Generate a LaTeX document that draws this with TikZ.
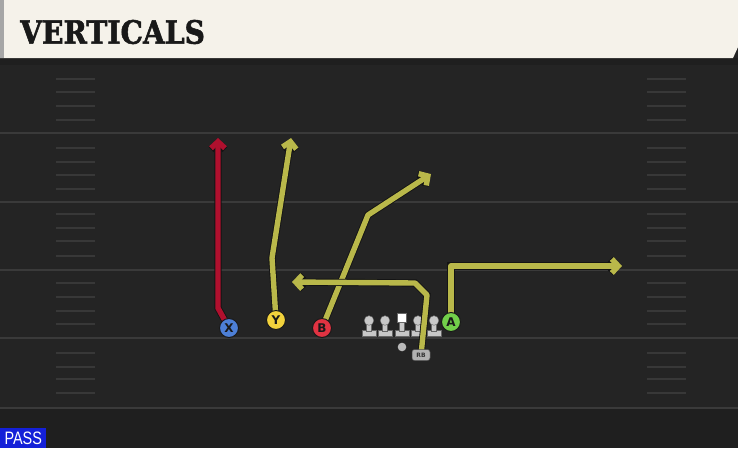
\documentclass[tikz,border=0pt]{standalone}
\usepackage{fontspec}
\setmainfont{DejaVu Sans}
\newfontfamily\titlefont[BoldFeatures={FakeBold=1.8}]{DejaVu Serif}
\newfontfamily\passfont{Liberation Sans}
\usetikzlibrary{arrows.meta}
\definecolor{fieldbg}{HTML}{242424}
\definecolor{fieldlow}{HTML}{1F1F1F}
\definecolor{yardc}{HTML}{3A3A3A}
\definecolor{hashc}{HTML}{383838}
\definecolor{cream}{HTML}{F5F2EA}
\definecolor{routeY}{HTML}{B9B84A}
\definecolor{routeX}{HTML}{B0102E}
\definecolor{pblue}{HTML}{4D7FD6}
\definecolor{pyellow}{HTML}{F2D23C}
\definecolor{pred}{HTML}{E03342}
\definecolor{pgreen}{HTML}{72D04A}
\definecolor{linec}{HTML}{C8C8C8}
\definecolor{passblue}{HTML}{1420D8}
\pgfdeclarelayer{field}
\pgfdeclarelayer{routes}
\pgfsetlayers{field,routes,main}
\tikzset{
  yard/.style={draw=yardc, line width=2pt},
  hashm/.style={draw=hashc, line width=1.4pt},
  route/.style={line width=5.4pt, line join=round, line cap=butt,
    -{Straight Barb[length=6.5pt,width=14pt,line join=miter]},
    preaction={draw=black!92, line width=7.2pt}},
  player/.style={circle, draw=black!90, line width=1pt, minimum size=19pt, inner sep=0pt,
    font=\bfseries\fontsize{12}{12}\selectfont, text=black!90},
  lineman/.style={fill=linec, draw=black!60, line width=0.4pt}
}
\begin{document}
\begin{tikzpicture}[x=1pt,y=-1pt]
\useasboundingbox (0,0) rectangle (738,448);
\begin{pgfonlayer}{field}
\fill[fieldbg] (0,0) rectangle (738,448);
\fill[fieldlow] (0,408) rectangle (738,448);
\foreach \yy in {133,202,270,338,408} \draw[yard] (0,\yy) -- (738,\yy);
\foreach \yy in {79,92,106,120,148,162,175,189,214,228,241,256,283,297,311,324,353,367,379,393}{
  \draw[hashm] (56,\yy) -- (95,\yy);
  \draw[hashm] (647,\yy) -- (686,\yy);
}
% header
\fill[black!88] (0,58) rectangle (738,65);
\fill[cream] (0,0) -- (738,0) -- (738,47) -- (733,58) -- (0,58) -- cycle;
\fill[gray!70] (0,0) rectangle (4,58);
\node[anchor=west, inner sep=0pt, text=black!90,
  font=\titlefont\bfseries\fontsize{32}{32}\selectfont] (title) at (20,32)
  {\scalebox{0.88}[1]{VERTICALS}};
% linemen
\foreach \xx in {369,385,418,434}{
  \fill[lineman] (\xx-7,330) rectangle (\xx+7,336);
  \fill[lineman] (\xx-2.5,323) rectangle (\xx+2.5,331);
  \fill[lineman] (\xx,320.5) circle (4.8);
}
\fill[lineman] (395,330) rectangle (409,336);
\fill[lineman] (399.5,322) rectangle (404.5,331);
\fill[white, draw=black!60, line width=0.4pt] (397.5,313.5) rectangle (406.5,322.5);
\fill[gray!55] (402,347) circle (4.3);
\end{pgfonlayer}

% players
\node[player, fill=pblue] (X) at (229,328) {X};
\node[player, fill=pyellow] (Y) at (276,320) {Y};
\node[player, fill=pred] (B) at (322,328) {B};
\node[player, fill=pgreen] (A) at (451,322) {A};
\node[fill=gray!60, draw=black!70, line width=0.5pt, rounded corners=2.5pt,
  minimum width=18pt, minimum height=11pt, inner sep=0pt,
  font=\bfseries\fontsize{6}{6}\selectfont, text=black!80] (RB) at (421,355) {RB};

% route coordinates
\coordinate (x1) at (218,308);
\coordinate (x2) at (218,138);
\coordinate (y1) at (272,258);
\coordinate (y2) at (291,138);
\coordinate (b1) at (368,215);
\coordinate (b2) at (431,174);
\coordinate (r1) at (427,295);
\coordinate (r2) at (415,283);
\coordinate (r3) at (292,282);
\coordinate (a1) at (451,266);
\coordinate (a2) at (622,266);

\begin{pgfonlayer}{routes}
\draw[route, draw=routeX] (X.center) -- (x1) -- (x2);
\draw[route, draw=routeY] (Y.center) -- (y1) -- (y2);
\draw[route, draw=routeY] (B.center) -- (b1) -- (b2);
\draw[route, draw=routeY] (RB.center) -- (r1) -- (r2) -- (r3);
\draw[route, draw=routeY] (A.center) -- (a1) -- (a2);
\end{pgfonlayer}

\node[fill=passblue, text=white, anchor=south west, inner sep=0pt,
  minimum width=46pt, minimum height=20pt,
  font=\passfont\fontsize{18}{18}\selectfont] (pass) at (0,448) {\scalebox{0.8}[1]{PASS}};
\end{tikzpicture}
\end{document}
